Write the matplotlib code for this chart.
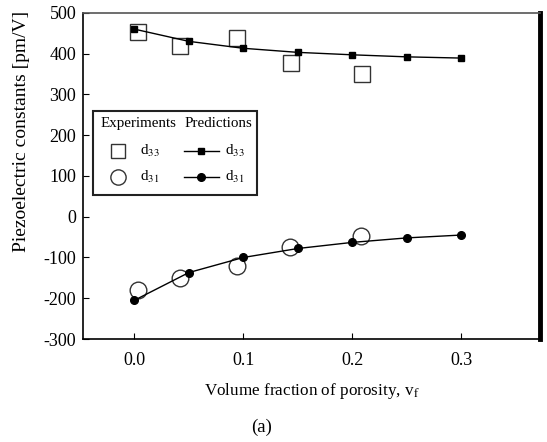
import numpy as np
import matplotlib.pyplot as plt
from matplotlib.patches import Rectangle

plt.rcParams['font.family'] = ['Liberation Serif', 'DejaVu Serif']
plt.rcParams['mathtext.fontset'] = 'stix'
plt.rcParams['axes.unicode_minus'] = False

# model predictions
vf_pred = [0.0, 0.05, 0.1, 0.15, 0.2, 0.25, 0.3]
d33_pred = [460, 430, 413, 403, 397, 392, 389]
d31_pred = [-205, -137, -100, -78, -63, -52, -45]

# experiments
vf_exp33 = [0.003, 0.042, 0.094, 0.144, 0.209]
d33_exp = [452, 419, 438, 378, 351]
vf_exp31 = [0.003, 0.042, 0.094, 0.143, 0.208]
d31_exp = [-180, -150, -120, -75, -47]

yticks = [-300, -200, -100, 0, 100, 200, 300, 400, 500]
xticks = [0.0, 0.1, 0.2, 0.3]

fig = plt.figure(figsize=(5.47, 4.42), dpi=100)
ax = fig.add_axes([0.152, 0.233, 0.835, 0.738])

ax.plot(vf_exp33, d33_exp, 's', ms=11, mfc='white', mec='#333333', mew=1.0, zorder=2)
ax.plot(vf_exp31, d31_exp, 'o', ms=12, mfc='white', mec='#333333', mew=1.0, zorder=2)
ax.plot(vf_pred, d33_pred, '-s', color='black', ms=5, lw=1.0, zorder=3)
ax.plot(vf_pred, d31_pred, '-o', color='black', ms=5.5, lw=1.0, zorder=3)

ax.set_xlim(-0.047, 0.372)
ax.set_ylim(-300, 500)
ax.set_xticks(xticks)
ax.set_xticklabels(['%.1f' % t for t in xticks])
ax.set_yticks(yticks)
ax.tick_params(direction='in', length=4, width=0.8, labelsize=13, colors='black')
ax.tick_params(axis='x', pad=9)
ax.tick_params(axis='y', pad=5)

ax.spines['right'].set_linewidth(3.5)
ax.spines['top'].set_linewidth(1.2)
ax.spines['top'].set_color('#555555')
ax.spines['left'].set_linewidth(1.2)
ax.spines['bottom'].set_linewidth(1.2)

ax.set_ylabel('Piezoelectric constants [pm/V]', fontsize=14)
ax.yaxis.set_label_coords(-0.117, 0.635)
ax.set_xlabel(r'Volume fraction of porosity, v$_\mathrm{f}$', fontsize=12.3, labelpad=9)

# legend drawn by hand (two headed columns)
tr = ax.transAxes
ax.add_patch(Rectangle((0.022, 0.442), 0.358, 0.257, transform=tr, fill=False,
                       lw=1.5, ec='#222222', zorder=5))
ax.text(0.037, 0.660, 'Experiments', transform=tr, fontsize=10.8, va='center')
ax.text(0.223, 0.660, 'Predictions', transform=tr, fontsize=10.8, va='center')
ax.plot([0.076], [0.577], 's', ms=10, mfc='white', mec='#333333', mew=1.0, transform=tr)
ax.plot([0.076], [0.497], 'o', ms=11, mfc='white', mec='#333333', mew=1.0, transform=tr)
ax.text(0.125, 0.577, r'd$_{33}$', transform=tr, fontsize=11, va='center')
ax.text(0.125, 0.497, r'd$_{31}$', transform=tr, fontsize=11, va='center')
ax.plot([0.221, 0.297], [0.577, 0.577], '-', color='black', lw=1.0, transform=tr)
ax.plot([0.258], [0.577], 's', color='black', ms=5, transform=tr)
ax.plot([0.221, 0.297], [0.497, 0.497], '-', color='black', lw=1.0, transform=tr)
ax.plot([0.258], [0.497], 'o', color='black', ms=5.5, transform=tr)
ax.text(0.310, 0.577, r'd$_{33}$', transform=tr, fontsize=11, va='center')
ax.text(0.310, 0.497, r'd$_{31}$', transform=tr, fontsize=11, va='center')

fig.text(0.479, 0.034, '(a)', fontsize=13.5, ha='center', va='center')

fig.savefig('out.png', dpi=100)
